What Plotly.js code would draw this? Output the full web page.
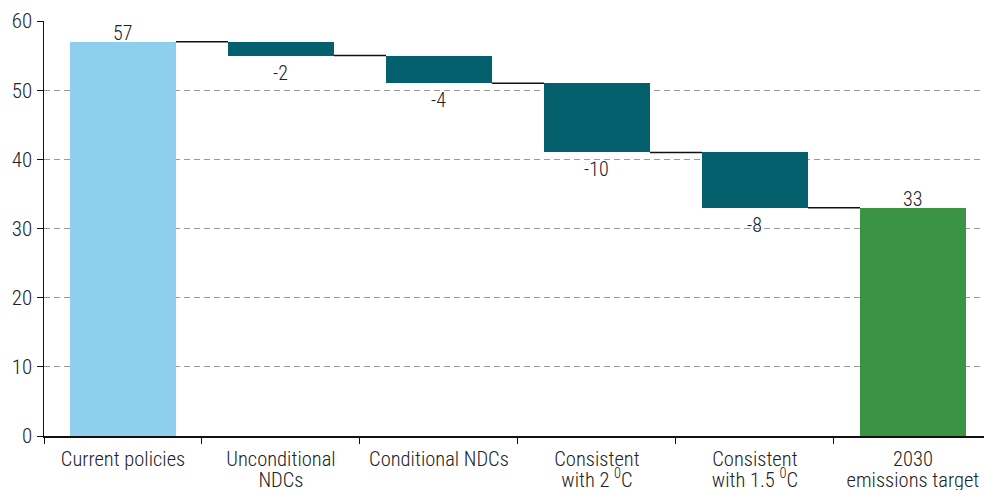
<!DOCTYPE html>
<html>
<head>
<meta charset="utf-8">
<script src="https://cdn.plot.ly/plotly-3.0.1.min.js"></script>
<style>html,body{margin:0;padding:0;background:#fff}#chart{width:984px;height:490px}</style>
</head>
<body>
<div id="chart"></div>
<script>
const labelLine1 = ["Current policies", "Unconditional", "Conditional NDCs", "Consistent", "Consistent", "2030"];
const labelLine2 = ["", "NDCs", "", "with 2 <sup>0</sup>C", "with 1.5 <sup>0</sup>C", "emissions target"];
const measures = ["total", "relative", "relative", "relative", "relative", "total"];
const values = [57, -2, -4, -10, -8, 33];

const categories = labelLine1.map((a, i) => labelLine2[i] ? a + " " + labelLine2[i] : a);

const colTotalStart = "#8ecfee", colStep = "#03606c", colTotalEnd = "#3a9444";
const barWidth = 0.67;

let level = 0;
const bases = [], ys = [], levelsAfter = [];
values.forEach((v, i) => {
  if (measures[i] === "total") { bases.push(0); ys.push(v); level = v; }
  else { bases.push(level); ys.push(v); level += v; }
  levelsAfter.push(level);
});
const colors = values.map((v, i) => i === 0 ? colTotalStart : (i === values.length - 1 ? colTotalEnd : colStep));

const shapes = [];
for (let i = 0; i < values.length - 1; i++) {
  shapes.push({type: "line", xref: "x", yref: "y",
    x0: i + barWidth / 2, x1: i + 1 - barWidth / 2,
    y0: levelsAfter[i], y1: levelsAfter[i],
    line: {color: "#111", width: 1.5}});
}

const fontFam = "'Roboto Condensed', Roboto, sans-serif";
const annotations = values.map((v, i) => {
  const isTotal = measures[i] === "total";
  return {
    x: categories[i], y: isTotal ? v : bases[i] + v, xref: "x", yref: "y",
    text: String(v), showarrow: false,
    yanchor: isTotal ? "bottom" : "top",
    yshift: isTotal ? -5 : -3,
    font: {family: fontFam, size: 20, color: "#222", weight: 300}
  };
});

const trace = {
  type: "bar", x: categories, y: ys, base: bases,
  width: barWidth,
  marker: {color: colors, line: {width: 0}},
  cliponaxis: false, hoverinfo: "skip"
};
// invisible helper trace so the second-line label axis is drawn
const helper = {
  type: "scatter", mode: "markers", x: labelLine2.map((_, i) => i), y: labelLine2.map(() => null),
  xaxis: "x2", yaxis: "y", marker: {opacity: 0}, hoverinfo: "skip", showlegend: false
};

const layout = {
  width: 984, height: 490,
  margin: {l: 44, r: 0, t: 21, b: 54},
  paper_bgcolor: "#fff", plot_bgcolor: "#fff",
  font: {family: fontFam, size: 20, color: "#222", weight: 300},
  showlegend: false,
  bargap: 0,
  xaxis: {type: "category", range: [-0.5, 5.45], tickson: "boundaries", tickangle: 0,
    tickmode: "array", tickvals: categories, ticktext: labelLine1,
    ticks: "outside", ticklen: 6, tickcolor: "#111", showline: true, linecolor: "#111", linewidth: 1.5,
    showgrid: false, tickfont: {size: 20.5, weight: 300}, ticklabelstandoff: 4, automargin: false},
  xaxis2: {type: "linear", overlaying: "x", anchor: "y", side: "bottom", range: [-0.5, 5.45],
    tickmode: "array", tickvals: labelLine2.map((_, i) => i), ticktext: labelLine2, tickangle: 0,
    ticks: "", showline: false, showgrid: false, zeroline: false,
    tickfont: {size: 20.5, weight: 300}, ticklabelstandoff: 29, automargin: false},
  yaxis: {range: [0, 60], dtick: 10, ticks: "outside", ticklen: 6, tickcolor: "#111",
    showline: true, linecolor: "#111", linewidth: 1.5, zeroline: false,
    showgrid: true, gridcolor: "#9a9a9a", griddash: "6px,4px", gridwidth: 1,
    tickfont: {size: 21, weight: 300}, automargin: false},
  shapes: shapes,
  annotations: annotations
};
Plotly.newPlot("chart", [trace, helper], layout, {displayModeBar: false, staticPlot: true});
</script>
</body>
</html>
